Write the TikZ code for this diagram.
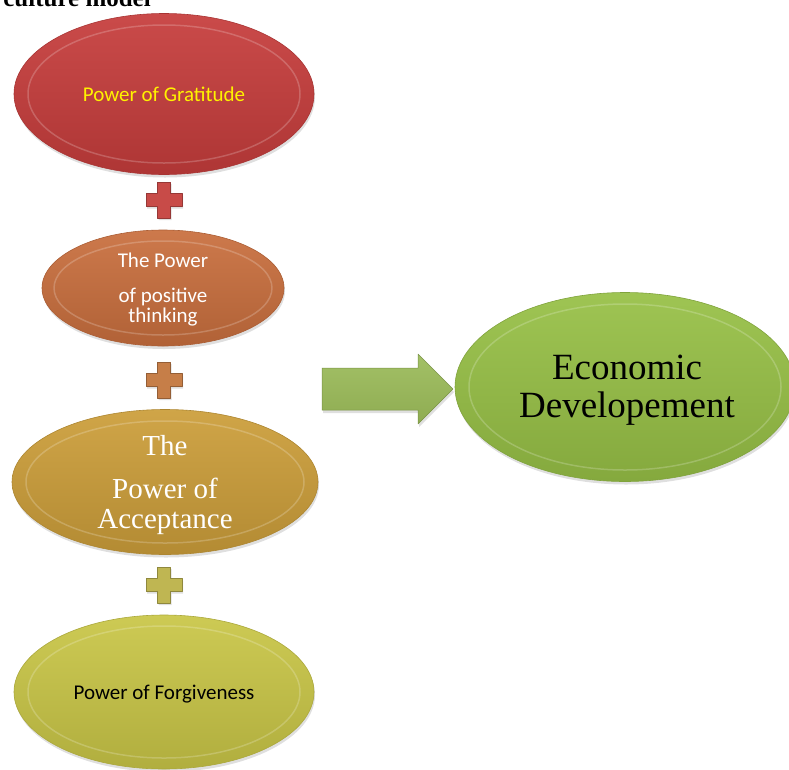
\documentclass[tikz,border=0pt]{standalone}
\usepackage{fontspec}
\setmainfont{Liberation Serif}
\newfontfamily\calibri{Carlito}
\usetikzlibrary{shapes.geometric,shadows}
\definecolor{gratred}{HTML}{C63D3C}
\definecolor{posorange}{HTML}{C96F3E}
\definecolor{accgold}{HTML}{CC9E3A}
\definecolor{forgyellow}{HTML}{C9C647}
\definecolor{econgreen}{HTML}{97C046}
\definecolor{arrowgreen}{HTML}{9BBB59}
\definecolor{gratyellow}{HTML}{FFF200}
\definecolor{plusred}{HTML}{C84B48}
\definecolor{plusorange}{HTML}{C67E48}
\definecolor{plusolive}{HTML}{BFB652}
\newcommand{\drawplus}[2]{\draw[plusmark=#2] (#1) ++(-6.5,-18) -- ++(13,0) -- ++(0,11.5) -- ++(11.5,0) -- ++(0,13) -- ++(-11.5,0) -- ++(0,11.5) -- ++(-13,0) -- ++(0,-11.5) -- ++(-11.5,0) -- ++(0,-13) -- ++(11.5,0) -- cycle;}
\begin{document}
\begin{tikzpicture}[x=1pt,y=-1pt, line join=round,
    bubble/.style={ellipse, inner sep=0pt, top color=#1!93!white, bottom color=#1!88!black,
      draw=#1!85!black, line width=0.6pt, drop shadow={opacity=0.25, shadow xshift=1pt, shadow yshift=-3pt}},
    bubbletext/.style={inner sep=0pt, align=center},
    rim/.style={draw=white, opacity=0.2, line width=1.5pt},
    plusmark/.style={fill=#1, draw=#1!75!black, line width=0.4pt, drop shadow={opacity=0.25, shadow xshift=1pt, shadow yshift=-2pt}},
    blockarrow/.style={top color=arrowgreen!92!white, bottom color=arrowgreen!92!black, draw=arrowgreen!78!black,
      line width=0.5pt, drop shadow={opacity=0.25, shadow xshift=1pt, shadow yshift=-3pt}}]
\useasboundingbox (0,0) rectangle (789,769);
% title line, cut at the top
\node[anchor=base east, inner sep=0pt, font=\bfseries\fontsize{25}{28}\selectfont] (title) at (151,6) {culture model};
% the four powers
\node[bubble=gratred, minimum width=300pt, minimum height=161pt] (grat) at (164,94) {};
\node[bubble=posorange, minimum width=242pt, minimum height=116pt] (pos) at (163,288) {};
\node[bubble=accgold, minimum width=306pt, minimum height=145pt] (acc) at (165,482) {};
\node[bubble=forgyellow, minimum width=300pt, minimum height=154pt] (forg) at (164,692) {};
% result
\node[bubble=econgreen, minimum width=340pt, minimum height=189pt] (econ) at (625,387) {};
% inner rims
\foreach \n/\rx/\ry in {grat/136/69, pos/109/47, acc/139/61, forg/136/66, econ/156/83}
  \draw[rim] (\n.center) ellipse [x radius=\rx pt, y radius=\ry pt];
% texts
\node[bubbletext, text=gratyellow, font=\calibri\fontsize{21}{25}\selectfont] (gratlabel) at (grat.center) {Power of Gratitude};
\node[bubbletext, text=white, font=\calibri\fontsize{21}{20}\selectfont] (poslabel) at ([yshift=-2pt]pos.center) {The Power\\[15pt]of positive\\thinking};
\node[bubbletext, text=white, font=\fontsize{29}{30}\selectfont] (acclabel) at ([yshift=-3pt]acc.center) {The\\[13pt]Power of\\Acceptance};
\node[bubbletext, text=black, font=\calibri\fontsize{21}{25}\selectfont] (forglabel) at ([yshift=-2pt]forg.center) {Power of Forgiveness};
\node[bubbletext, text=black, font=\fontsize{37}{38}\selectfont] (econlabel) at ([xshift=2pt,yshift=-3pt]econ.center) {Economic\\Developement};
% plus signs
\coordinate (plusA) at (164,200);
\coordinate (plusB) at (164,380);
\coordinate (plusC) at (164,585);
\drawplus{plusA}{plusred}
\drawplus{plusB}{plusorange}
\drawplus{plusC}{plusolive}
% arrow
\coordinate (arrowtail) at (322,389);
\draw[blockarrow] (arrowtail) ++(0,-21) -- ++(96,0) -- ++(0,-14) -- ++(35,35) -- ++(-35,35) -- ++(0,-14) -- ++(-96,0) -- cycle;
\end{tikzpicture}
\end{document}
